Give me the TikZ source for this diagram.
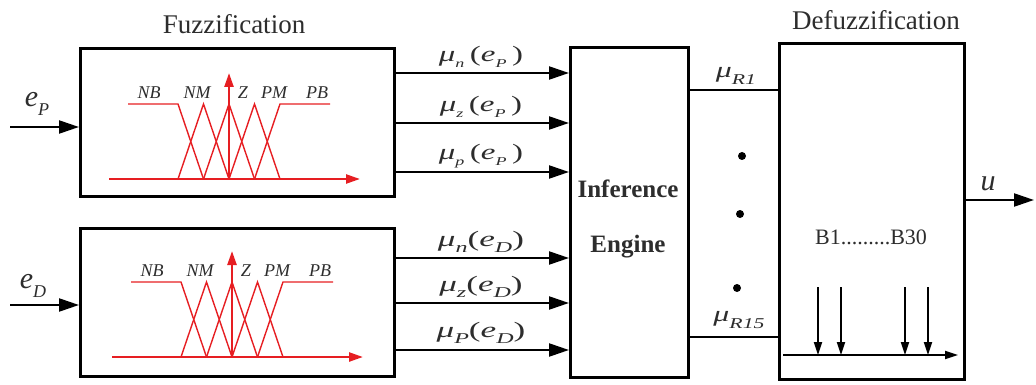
\documentclass[tikz,border=0pt]{standalone}
\usepackage{fontspec}
\usepackage{graphicx}
\setmainfont{Liberation Serif}
\usetikzlibrary{arrows.meta}
\definecolor{mfred}{RGB}{230,30,34}
\definecolor{txt}{RGB}{45,45,45}
\newcommand\sbx[2]{\raisebox{-0.28em}{\fontsize{#1}{#1}\selectfont\itshape #2}}
\newcommand\wide[2]{\scalebox{#1}[1]{#2}}
\tikzset{
  x=1pt, y=-1pt,
  box/.style={draw=black, line width=3pt, inner sep=0pt, anchor=north west},
  arr/.style={draw=black, line width=2.2pt, -{Triangle[length=20pt,width=13pt]}},
  sarr/.style={draw=black, line width=1.8pt, -{Triangle[length=13pt,width=8pt]}},
  wire/.style={draw=black, line width=2.4pt},
  title/.style={text=txt, font=\fontsize{27}{30}\selectfont, inner sep=0pt},
  mulab/.style={text=txt, font=\fontsize{22}{24}\selectfont, inner sep=0pt},
  elab/.style={text=txt, font=\fontsize{30}{32}\selectfont\itshape, inner sep=0pt},
  ielab/.style={text=txt, font=\fontsize{25}{27}\selectfont\bfseries, inner sep=0pt},
  mflab/.style={text=txt, font=\fontsize{18}{20}\selectfont\itshape, inner sep=0pt},
  mfline/.style={draw=mfred, line width=1.4pt},
  mfaxis/.style={draw=mfred, line width=2.4pt, -{Triangle[length=14pt,width=9pt]}},
  dotn/.style={circle, fill=black, inner sep=0pt, minimum size=8pt},
  mfpic/.pic={
    \draw[mfaxis] (-120,0) -- (131,0);
    \draw[mfaxis] (0,0) -- (0,-106);
    \draw[mfline] (-101,-75) -- (-51,-75) -- (-25.5,0);
    \draw[mfline] (-51,0) -- (-25.5,-75) -- (0,0);
    \draw[mfline] (-25.5,0) -- (0,-75) -- (25.5,0);
    \draw[mfline] (0,0) -- (25.5,-75) -- (51,0);
    \draw[mfline] (25.5,0) -- (51,-75) -- (101,-75);
    \node[mflab] (-nb) at (-80,-86) {NB};
    \node[mflab] (-nm) at (-32,-86) {NM};
    \node[mflab] (-z)  at (14,-86) {Z};
    \node[mflab] (-pm) at (45,-86) {PM};
    \node[mflab] (-pb) at (88,-86) {PB};
  }
}
\begin{document}
\begin{tikzpicture}
\useasboundingbox (0,0) rectangle (1036,385);
% boxes
\node[box, minimum width=314pt, minimum height=148pt] (fz1) at (79,47) {};
\node[box, minimum width=314pt, minimum height=148pt] (fz2) at (79,227) {};
\node[box, minimum width=118pt, minimum height=330pt] (ie) at (569,46) {};
\node[box, minimum width=185pt, minimum height=336pt] (df) at (778,42) {};
% titles
\node[title] (t1) at (234,24) {Fuzzification};
\node[title] (t2) at (876,20) {Defuzzification};
% membership functions
\pic (mfa) at (229,179) {mfpic};
\pic (mfb) at (232,357) {mfpic};
% inputs
\coordinate (inP) at (10,127);
\coordinate (inD) at (10,305);
\draw[arr] (inP) -- (fz1.west |- inP);
\draw[arr] (inD) -- (fz2.west |- inD);
\node[elab] (eP) at (37,104) {e\sbx{18}{P}};
\node[elab] (eD) at (33,286) {e\sbx{18}{D}};
% fuzzified outputs
\foreach \yy/\nm in {73/a,123/b,172/c}{
  \coordinate (s\nm) at (0,\yy);
  \draw[arr] (fz1.east |- s\nm) -- (ie.west |- s\nm);
}
\foreach \yy/\nm in {258/d,303/e,350/f}{
  \coordinate (s\nm) at (0,\yy);
  \draw[arr] (fz2.east |- s\nm) -- (ie.west |- s\nm);
}
\node[mulab] (la) at (481,57) {\wide{1.5}{\textit{μ}\sbx{12}{n}\,(\textit{e}\sbx{12}{P}\,)}};
\node[mulab] (lb) at (481,107) {\wide{1.5}{\textit{μ}\sbx{12}{z}\,(\textit{e}\sbx{12}{P}\,)}};
\node[mulab] (lc) at (481,156) {\wide{1.5}{\textit{μ}\sbx{12}{p}\,(\textit{e}\sbx{12}{P}\,)}};
\node[mulab] (ld) at (481,242) {\wide{1.6}{\textit{μ}\sbx{15}{n}(\textit{e}\sbx{15}{D})}};
\node[mulab] (le) at (481,287) {\wide{1.6}{\textit{μ}\sbx{15}{z}(\textit{e}\sbx{15}{D})}};
\node[mulab] (lf) at (481,333) {\wide{1.6}{\textit{μ}\sbx{15}{P}(\textit{e}\sbx{15}{D})}};
% inference engine text
\node[ielab] (inf) at (628,189) {Inference};
\node[ielab] (eng) at (628,247) {Engine};
% rule outputs
\coordinate (r1) at (0,90);
\coordinate (r15) at (0,337);
\draw[wire] (ie.east |- r1) -- (df.west |- r1);
\draw[wire] (ie.east |- r15) -- (df.west |- r15);
\node[mulab] (mr1) at (736,76) {\wide{1.45}{\textit{μ}\sbx{15}{R1}}};
\node[mulab] (mr15) at (739,320) {\wide{1.45}{\textit{μ}\sbx{15}{R15}}};
\node[dotn] (d1) at (742,156) {};
\node[dotn] (d2) at (740,214) {};
\node[dotn] (d3) at (737,288) {};
% defuzzification contents
\node[text=txt, font=\fontsize{22}{24}\selectfont, inner sep=0pt] (bb) at (871,237) {B1.........B30};
\coordinate (ax0) at (783,355);
\coordinate (ax1) at (958,355);
\draw[sarr] (ax0) -- (ax1);
\foreach \xx/\nm in {818/p,841/q,905/r,928/s}{
  \coordinate (k\nm) at (\xx,287);
  \draw[sarr] (k\nm) -- (k\nm |- ax0);
}
% output
\coordinate (uo) at (1034,200);
\draw[arr] (df.east |- uo) -- (uo);
\node[elab] (u) at (988,184) {u};
\end{tikzpicture}
\end{document}
